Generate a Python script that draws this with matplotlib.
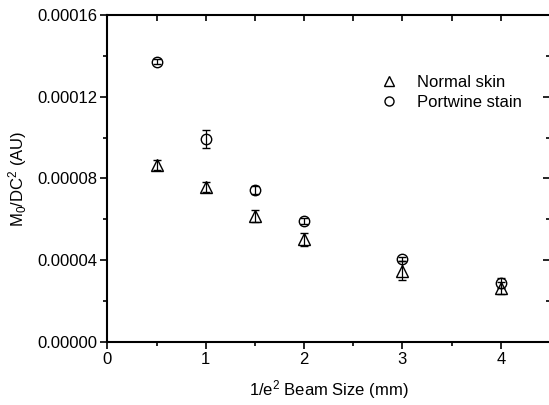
import numpy as np
import matplotlib
matplotlib.use("Agg")
import matplotlib.pyplot as plt
from matplotlib.lines import Line2D
from matplotlib.ticker import MultipleLocator, FormatStrFormatter

plt.rcParams['font.family'] = ['Liberation Sans', 'DejaVu Sans']
plt.rcParams['mathtext.default'] = 'regular'

# beam sizes (mm)
beam_size = [0.5, 1.0, 1.5, 2.0, 3.0, 4.0]

# M0/DC^2 values
normal_skin = [0.0000866, 0.0000760, 0.0000617, 0.0000502, 0.0000349, 0.0000263]
normal_err = [0.0000025, 0.0000025, 0.0000030, 0.0000030, 0.0000045, 0.0000030]
portwine = [0.0001371, 0.0000992, 0.0000744, 0.0000594, 0.0000406, 0.0000287]
portwine_err = [0.0000012, 0.0000043, 0.0000020, 0.0000015, 0.0000012, 0.0000025]

fig = plt.figure(figsize=(5.49, 4.05), dpi=100)
ax = fig.add_axes([0.1955, 0.1556, 0.8063, 0.8074])

ax.errorbar(beam_size, normal_skin, yerr=normal_err, fmt='^', ms=9, mfc='none',
            mec='black', mew=1.0, ecolor='black', elinewidth=0.9, capsize=3,
            capthick=0.9)
ax.errorbar(beam_size, portwine, yerr=portwine_err, fmt='o', ms=7.5, mfc='none',
            mec='black', mew=1.0, ecolor='black', elinewidth=0.9, capsize=3,
            capthick=0.9)

ax.set_xlim(0, 4.5)
ax.set_ylim(0, 0.00016)
ax.xaxis.set_major_locator(MultipleLocator(1))
ax.xaxis.set_minor_locator(MultipleLocator(0.5))
ax.yaxis.set_major_locator(MultipleLocator(0.00004))
ax.yaxis.set_minor_locator(MultipleLocator(0.00002))
ax.yaxis.set_major_formatter(FormatStrFormatter('%.5f'))
ax.xaxis.set_major_formatter(FormatStrFormatter('%d'))

for s in ['left', 'bottom', 'top']:
    ax.spines[s].set_linewidth(1.5)
ax.spines['right'].set_visible(False)

ax.tick_params(which='major', direction='out', length=5, width=1.2, labelsize=12, pad=2)
ax.tick_params(which='minor', direction='out', length=3, width=1.2)

# mirrored ticks pointing inward on top and right
top = ax.secondary_xaxis('top')
top.xaxis.set_major_locator(MultipleLocator(0.5))
top.tick_params(direction='in', length=4, width=1.2, labeltop=False)
top.spines['top'].set_visible(False)
right = ax.secondary_yaxis('right')
right.yaxis.set_major_locator(MultipleLocator(0.00004))
right.yaxis.set_minor_locator(MultipleLocator(0.00002))
right.tick_params(which='major', direction='in', length=5, width=1.2, labelright=False)
right.tick_params(which='minor', direction='in', length=3, width=1.2)
right.spines['right'].set_visible(False)

ax.set_xlabel('1/e$^2$ Beam Size (mm)', fontsize=12, labelpad=8)
ax.set_ylabel('M$_0$/DC$^2$ (AU)', fontsize=12, labelpad=6)

handles = [
    Line2D([], [], ls='none', marker='^', ms=7.5, mfc='none', mec='black', mew=1.0),
    Line2D([], [], ls='none', marker='o', ms=6.5, mfc='none', mec='black', mew=1.0),
]
ax.legend(handles, ['Normal skin', 'Portwine stain'], loc='upper left',
          bbox_to_anchor=(0.594, 0.836), frameon=False, fontsize=12,
          handletextpad=0.9, labelspacing=0.3, handlelength=1.5,
          borderaxespad=0)

fig.savefig('out.png', dpi=100)
